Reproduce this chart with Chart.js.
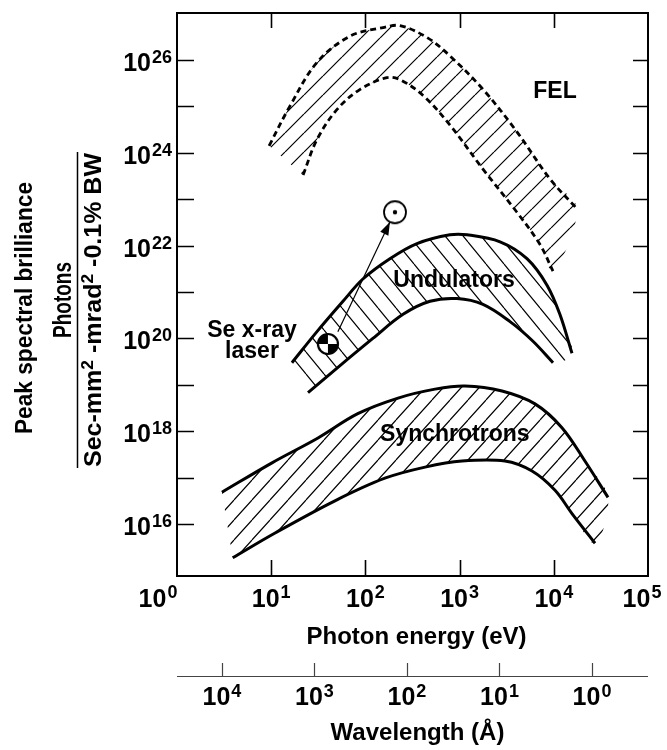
<!DOCTYPE html>
<html lang="en">
<head>
<meta charset="UTF-8">
<title>Peak spectral brilliance</title>
<script src="https://cdn.jsdelivr.net/npm/chart.js@4.4.1/dist/chart.umd.min.js"></script>
<style>
  html, body { margin: 0; padding: 0; background: #fff; }
  canvas { display: block; }
</style>
</head>
<body>
<canvas id="chart" width="667" height="750"></canvas>
<script>
// photon energy (eV) / peak brilliance
const felUpperE = [9.5, 15.8, 30.6, 68.7, 154, 233, 451, 791, 1770, 4060, 9120, 17600];
const felUpperB = [1.4e24, 1.0e25, 8.7e25, 3.2e26, 4.9e26, 5.4e26, 3.0e26, 1.2e26, 2.3e25, 2.8e24, 2.7e23, 6.2e22];
const felLowerE = [21.8, 30.6, 50, 88, 169, 233, 409, 791, 1770, 4060, 7140, 9800];
const felLowerB = [3.3e23, 1.9e24, 8.5e24, 2.3e25, 4.1e25, 3.7e25, 1.7e25, 3.9e24, 4.4e23, 5.2e22, 1.05e22, 2.8e21];

const undUpperE = [16.6, 30.6, 57.8, 94, 182, 353, 791, 1200, 2690, 5190, 8470, 11600, 15600];
const undUpperB = [3.0e19, 1.4e20, 6.3e20, 1.9e21, 5.2e21, 1.1e22, 1.7e22, 1.7e22, 1.2e22, 5.2e21, 1.4e21, 3.3e20, 4.8e19];
const undLowerE = [24.6, 50, 120, 251, 485, 938, 1770, 3430, 6010, 9810];
const undLowerB = [6.8e18, 2.3e19, 1.0e20, 3.3e20, 6.3e20, 7.2e20, 5.4e20, 2.3e20, 8.7e19, 3.0e19];

const synUpperE = [3.0, 10.2, 31.4, 83, 222, 548, 1140, 2820, 6310, 12200, 21400, 37600];
const synUpperB = [4.9e16, 2.1e17, 7.2e17, 2.4e18, 5.2e18, 8.1e18, 9.5e18, 7.4e18, 3.9e18, 1.2e18, 2.3e17, 3.8e16];
const synLowerE = [3.9, 11.0, 47.5, 161, 430, 1060, 3030, 5870, 10300, 15600, 27400];
const synLowerB = [1.9e15, 6.5e15, 3.2e16, 9.8e16, 1.7e17, 2.3e17, 2.3e17, 1.4e17, 5.4e16, 1.7e16, 3.9e15];

// Se x-ray laser point, the arrow and the circled target point
const seLaser = [40, 7.6e19];
const arrowFrom = [51, 1.4e20];
const arrowTo = [182, 3.2e22];
const target = [206, 5.2e22];

// axes
const energyTicks = [1, 10, 100, 1000, 10000, 100000];
const brillianceTicks = [1e16, 1e17, 1e18, 1e19, 1e20, 1e21, 1e22, 1e23, 1e24, 1e25, 1e26];
const brillianceLabels = [1e16, 1e18, 1e20, 1e22, 1e24, 1e26];
const wavelengthTicks = [1e4, 1e3, 1e2, 1e1, 1e0];

// band names and where they sit
const bandLabels = [
  {text: 'FEL', e: 10300, b: 1.46e25},
  {text: 'Undulators', e: 872, b: 1.3e21},
  {text: 'Synchrotrons', e: 890, b: 6.3e17},
  {text: 'Se x-ray', e: 6.25, b: 1.07e20},
  {text: 'laser', e: 6.25, b: 3.8e19}
];

const FONT = '"Liberation Sans", Arial, Helvetica, sans-serif';

function pts(E, B) {
  return E.map((e, i) => ({x: e, y: B[i]}));
}
function band(upE, upB, loE, loB) {
  return pts(upE, upB).concat(pts(loE, loB).reverse());
}

// line hatching; w x h tile, dir 1 = "/", -1 = "\"
function hatch(w, h, dir) {
  const c = document.createElement('canvas');
  c.width = w; c.height = h;
  const g = c.getContext('2d');
  g.strokeStyle = '#000';
  g.lineWidth = 1.2;
  g.beginPath();
  for (let k = -1; k <= 1; k++) {
    if (dir > 0) { g.moveTo(k * w, h); g.lineTo(k * w + w, 0); }
    else { g.moveTo(k * w, 0); g.lineTo(k * w + w, h); }
  }
  g.stroke();
  return g.createPattern(c, 'repeat');
}

function seIcon() {
  const c = document.createElement('canvas');
  c.width = c.height = 26;
  const g = c.getContext('2d');
  g.fillStyle = '#fff';
  g.beginPath(); g.arc(13, 13, 10, 0, Math.PI * 2); g.fill();
  g.fillStyle = '#000';
  g.beginPath(); g.moveTo(13, 13); g.arc(13, 13, 10, Math.PI, Math.PI * 1.5); g.closePath(); g.fill();
  g.beginPath(); g.moveTo(13, 13); g.arc(13, 13, 10, 0, Math.PI * 0.5); g.closePath(); g.fill();
  g.lineWidth = 2.2;
  g.beginPath(); g.arc(13, 13, 10, 0, Math.PI * 2); g.stroke();
  return c;
}
function targetIcon() {
  const c = document.createElement('canvas');
  c.width = c.height = 28;
  const g = c.getContext('2d');
  g.fillStyle = '#fff';
  g.beginPath(); g.arc(14, 14, 11, 0, Math.PI * 2); g.fill();
  g.lineWidth = 1.8;
  g.strokeStyle = '#000';
  g.stroke();
  g.fillStyle = '#000';
  g.beginPath(); g.arc(14, 14, 2.2, 0, Math.PI * 2); g.fill();
  return c;
}

// "10" with a raised exponent
function power(ctx, v, x, baseY, align, size, supSize, rise) {
  const exp = String(Math.round(Math.log10(v)));
  ctx.font = 'bold ' + size + 'px ' + FONT;
  const wb = ctx.measureText('10').width;
  ctx.font = 'bold ' + supSize + 'px ' + FONT;
  const ws = ctx.measureText(exp).width;
  const total = wb + 1 + ws;
  let left = x;
  if (align === 'right') left = x - total;
  if (align === 'center') left = x - total / 2;
  ctx.textAlign = 'left';
  ctx.textBaseline = 'alphabetic';
  ctx.font = 'bold ' + size + 'px ' + FONT;
  ctx.fillText('10', left, baseY);
  ctx.font = 'bold ' + supSize + 'px ' + FONT;
  ctx.fillText(exp, left + wb + 1, baseY - rise);
}

// vertical text, read bottom to top, squeezed/stretched to a given length
function vtext(ctx, parts, baseX, centerY, len) {
  let natural = 0;
  parts.forEach(p => { ctx.font = 'bold ' + p.size + 'px ' + FONT; p.w = ctx.measureText(p.t).width; natural += p.w; });
  ctx.save();
  ctx.translate(baseX, centerY);
  ctx.rotate(-Math.PI / 2);
  ctx.scale(len / natural, 1);
  ctx.textAlign = 'left';
  ctx.textBaseline = 'alphabetic';
  let cx = -natural / 2;
  parts.forEach(p => {
    ctx.font = 'bold ' + p.size + 'px ' + FONT;
    ctx.fillText(p.t, cx, -(p.rise || 0));
    cx += p.w;
  });
  ctx.restore();
}

const decor = {
  id: 'decor',
  afterDraw(chart) {
    const {ctx, chartArea: a, scales: {x, y, w}} = chart;
    ctx.save();
    ctx.strokeStyle = '#000';
    ctx.fillStyle = '#000';

    // arrow head
    const fx = x.getPixelForValue(arrowFrom[0]), fy = y.getPixelForValue(arrowFrom[1]);
    const tx = x.getPixelForValue(arrowTo[0]), ty = y.getPixelForValue(arrowTo[1]);
    const ang = Math.atan2(ty - fy, tx - fx);
    ctx.beginPath();
    ctx.moveTo(tx, ty);
    ctx.lineTo(tx - 13 * Math.cos(ang) + 4.5 * Math.sin(ang), ty - 13 * Math.sin(ang) - 4.5 * Math.cos(ang));
    ctx.lineTo(tx - 13 * Math.cos(ang) - 4.5 * Math.sin(ang), ty - 13 * Math.sin(ang) + 4.5 * Math.cos(ang));
    ctx.closePath();
    ctx.fill();

    // band names
    bandLabels.forEach(l => {
      ctx.font = 'bold 23px ' + FONT;
      ctx.textAlign = 'center';
      ctx.textBaseline = 'alphabetic';
      ctx.fillText(l.text, x.getPixelForValue(l.e), y.getPixelForValue(l.b));
    });

    // frame with inward ticks
    ctx.lineWidth = 2;
    ctx.strokeRect(a.left, a.top, a.right - a.left, a.bottom - a.top);
    ctx.lineWidth = 1.6;
    ctx.beginPath();
    brillianceTicks.forEach(v => {
      const py = Math.round(y.getPixelForValue(v)) + 0.5;
      ctx.moveTo(a.left, py); ctx.lineTo(a.left + 17, py);
      ctx.moveTo(a.right, py); ctx.lineTo(a.right - 15, py);
    });
    energyTicks.slice(1, -1).forEach(v => {
      const px = Math.round(x.getPixelForValue(v)) + 0.5;
      ctx.moveTo(px, a.bottom); ctx.lineTo(px, a.bottom - 16);
      ctx.moveTo(px, a.top); ctx.lineTo(px, a.top + 15);
    });
    ctx.stroke();

    // tick labels
    brillianceLabels.forEach(v => {
      power(ctx, v, a.left - 5, y.getPixelForValue(v) + 11, 'right', 25, 18, 8);
    });
    energyTicks.forEach((v, i) => {
      let px = x.getPixelForValue(v);
      if (i === 0) px -= 19;
      if (i === energyTicks.length - 1) px -= 6;
      power(ctx, v, px, 607, 'center', 25, 18, 9);
    });
    ctx.font = 'bold 24px ' + FONT;
    ctx.textAlign = 'center';
    ctx.fillText('Photon energy (eV)', (a.left + a.right) / 2 + 4, 644);

    // wavelength axis
    ctx.strokeStyle = '#444';
    ctx.lineWidth = 1.2;
    ctx.beginPath();
    ctx.moveTo(w.left, 676.5); ctx.lineTo(w.right, 676.5);
    wavelengthTicks.forEach(v => {
      const px = Math.round(w.getPixelForValue(v)) + 0.5;
      ctx.moveTo(px, 676.5); ctx.lineTo(px, 663);
    });
    ctx.stroke();
    wavelengthTicks.forEach(v => {
      power(ctx, v, w.getPixelForValue(v), 705, 'center', 25, 18, 8);
    });
    ctx.font = 'bold 24px ' + FONT;
    ctx.textAlign = 'center';
    ctx.fillText('Wavelength (\u00c5)', (a.left + a.right) / 2 + 5, 740);

    // y title
    vtext(ctx, [{t: 'Peak spectral brilliance', size: 24}], 32, 308, 252);
    vtext(ctx, [{t: 'Photons', size: 25}], 71, 300, 76);
    ctx.strokeStyle = '#000';
    ctx.lineWidth = 1.5;
    ctx.beginPath();
    ctx.moveTo(77.5, 152); ctx.lineTo(77.5, 468);
    ctx.stroke();
    vtext(ctx, [
      {t: 'Sec-mm', size: 23}, {t: '2', size: 16, rise: 8},
      {t: ' -mrad', size: 23}, {t: '2', size: 16, rise: 8},
      {t: ' -0.1% BW', size: 23}
    ], 101, 310, 314);
    ctx.restore();
  }
};

const lineStyle = {showLine: true, pointRadius: 0, fill: false, tension: 0.35, borderColor: '#000'};

new Chart(document.getElementById('chart'), {
  type: 'scatter',
  data: {
    datasets: [
      {data: pts([target[0]], [target[1]]), pointStyle: targetIcon(), pointRadius: 12, showLine: false},
      {data: pts([seLaser[0]], [seLaser[1]]), pointStyle: seIcon(), pointRadius: 11, showLine: false},
      {...lineStyle, data: pts([arrowFrom[0], arrowTo[0]], [arrowFrom[1], arrowTo[1]]), borderWidth: 1.2, tension: 0},
      {...lineStyle, data: pts(felUpperE, felUpperB), borderWidth: 2.8, borderDash: [6, 4]},
      {...lineStyle, data: pts(felLowerE, felLowerB), borderWidth: 2.8, borderDash: [6, 4]},
      {...lineStyle, data: pts(undUpperE, undUpperB), borderWidth: 3},
      {...lineStyle, data: pts(undLowerE, undLowerB), borderWidth: 3},
      {...lineStyle, data: pts(synUpperE, synUpperB), borderWidth: 3},
      {...lineStyle, data: pts(synLowerE, synLowerB), borderWidth: 3},
      {...lineStyle, data: band(felUpperE, felUpperB, felLowerE, felLowerB), borderWidth: 0, fill: 'shape', backgroundColor: hatch(19, 19, 1)},
      {...lineStyle, data: band(undUpperE, undUpperB, undLowerE, undLowerB), borderWidth: 0, fill: 'shape', backgroundColor: hatch(18, 22, -1)},
      {...lineStyle, data: band(synUpperE, synUpperB, synLowerE, synLowerB), borderWidth: 0, fill: 'shape', backgroundColor: hatch(18, 20, 1)}
    ]
  },
  options: {
    responsive: false,
    animation: false,
    devicePixelRatio: 1,
    layout: {padding: {left: 177, top: 10, right: 19, bottom: 174}},
    plugins: {legend: {display: false}, tooltip: {enabled: false}},
    scales: {
      x: {type: 'logarithmic', min: 1, max: 1e5, display: false},
      y: {type: 'logarithmic', min: 7.7e14, max: 1.01e27, display: false},
      w: {type: 'logarithmic', axis: 'x', position: 'bottom', reverse: true, min: 0.248, max: 30620, display: false}
    }
  },
  plugins: [decor]
});
</script>
</body>
</html>
